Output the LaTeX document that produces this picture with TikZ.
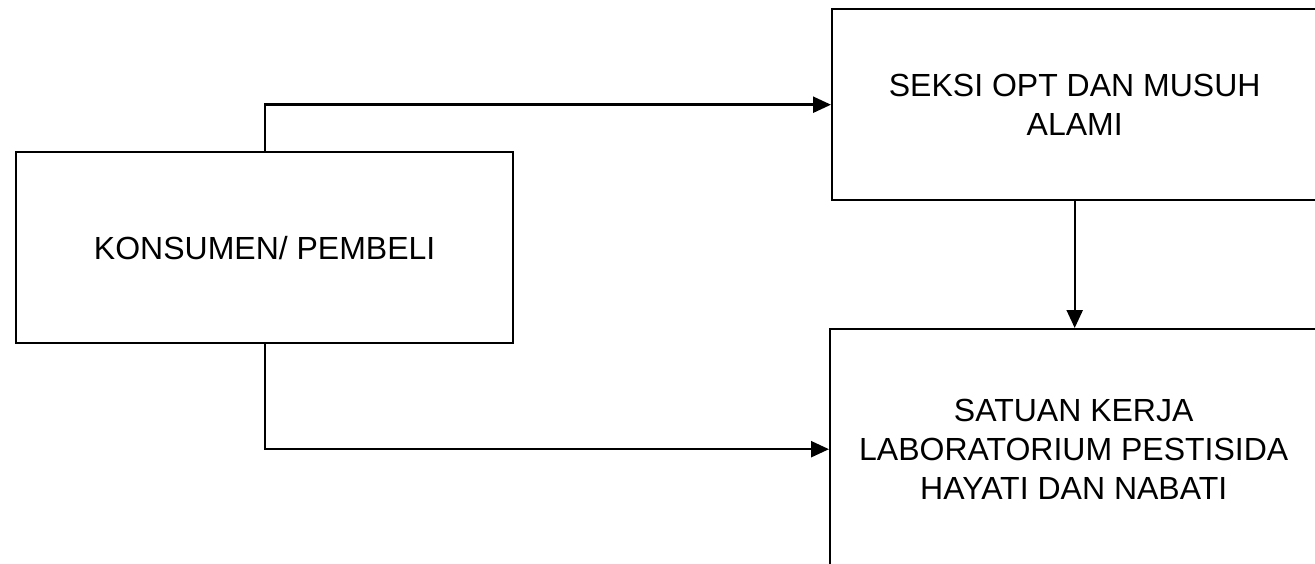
\documentclass[tikz,border=0pt]{standalone}
\usepackage{fontspec}
\setmainfont{Liberation Sans}
\usetikzlibrary{arrows.meta}
\begin{document}
\begin{tikzpicture}[x=1pt,y=-1pt,
  box/.style={draw=black, line width=2.4pt, rectangle, anchor=north west, inner sep=0pt,
    align=center, font=\fontsize{32}{39}\selectfont},
  conn/.style={draw=black, line width=2.4pt, -{Triangle[length=18pt,width=16pt]}}]
\useasboundingbox (0,0) rectangle (1315,564);
\node[box, minimum width=497pt, minimum height=191pt] (kons) at (15,151) {KONSUMEN/ PEMBELI};
\node[box, minimum width=485pt, minimum height=191pt] (seksi) at (831,8) {SEKSI OPT DAN MUSUH\\ALAMI};
\node[box, minimum width=487pt, minimum height=240pt] (satuan) at (829,328) {SATUAN KERJA\\LABORATORIUM PESTISIDA\\HAYATI DAN NABATI};
\draw[conn] (kons.north) |- (seksi.west);
\draw[conn] (kons.south) |- (satuan.west);
\draw[conn] (seksi.south) -- (seksi.south |- satuan.north);
\end{tikzpicture}
\end{document}
